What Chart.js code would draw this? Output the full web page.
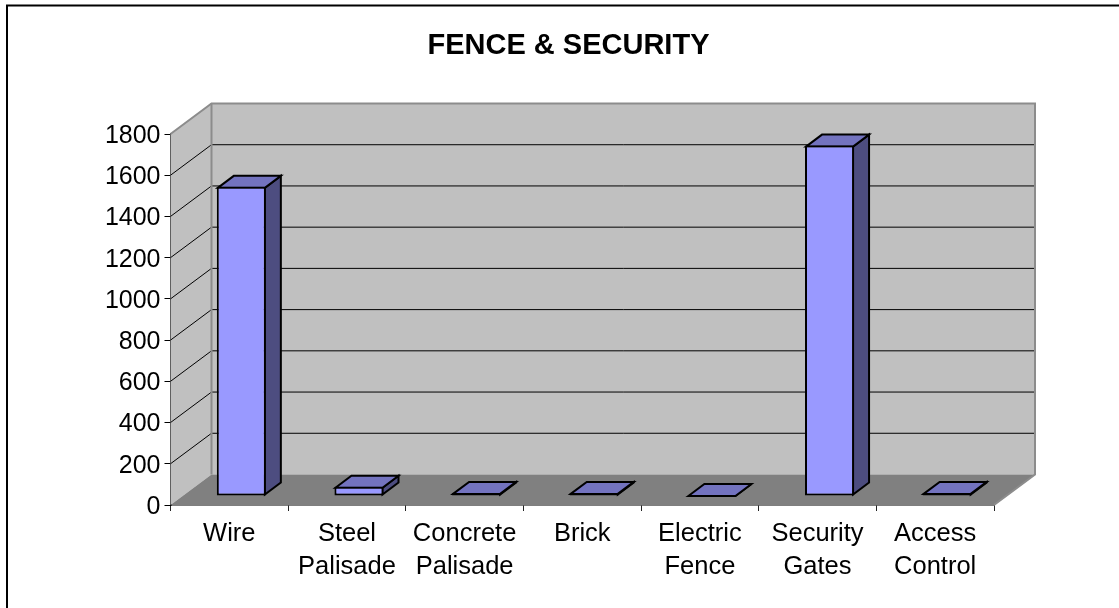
<!DOCTYPE html>
<html>
<head>
<meta charset="utf-8">
<title>Fence & Security</title>
<script src="https://cdn.jsdelivr.net/npm/chart.js@4/dist/chart.umd.min.js"></script>
<style>
    html, body { margin: 0; padding: 0; background: #fff; }
    canvas { display: block; }
</style>
</head>
<body>
<canvas id="fence-chart" width="1119" height="608"></canvas>
<script>
// chart data
const categories = ['Wire', ['Steel', 'Palisade'], ['Concrete', 'Palisade'], 'Brick', ['Electric', 'Fence'], ['Security', 'Gates'], ['Access', 'Control']];
const amounts = [1500, 45, 15, 15, 0, 1700, 15];
const chartTitle = 'FENCE & SECURITY';
const yMin = 0;
const yMax = 1800;
const yStep = 200;

// depth of the box the chart sits in, and of the bars inside it
const boxDepth = {x: 41, y: -30.5};
const barFront = {x: 12, y: -9};
const barDepth = {x: 16, y: -12};
const barLine = 2;

function poly(ctx, points, fill, stroke, width) {
    ctx.beginPath();
    points.forEach(function(p, i) {
        if (i == 0) ctx.moveTo(p[0], p[1]);
        else ctx.lineTo(p[0], p[1]);
    });
    ctx.closePath();
    if (fill) {
        ctx.fillStyle = fill;
        ctx.fill();
    }
    if (stroke) {
        ctx.strokeStyle = stroke;
        ctx.lineWidth = width;
        ctx.lineJoin = 'miter';
        ctx.stroke();
    }
}

// side wall, back wall, floor and gridlines, behind the bars
const boxPlugin = {
    id: 'box3d',
    beforeDraw: function(chart) {
        let ctx = chart.ctx;
        ctx.save();
        // chart frame only shows along the top and left
        ctx.strokeStyle = '#000';
        ctx.lineWidth = 2;
        ctx.beginPath();
        ctx.moveTo(7, 608);
        ctx.lineTo(7, 5.5);
        ctx.lineTo(1119, 5.5);
        ctx.stroke();
        ctx.restore();
    },
    beforeDatasetsDraw: function(chart) {
        let ctx = chart.ctx;
        let area = chart.chartArea;
        let dx = boxDepth.x, dy = boxDepth.y;
        let l = area.left, r = area.right, t = area.top, b = area.bottom;
        ctx.save();
        poly(ctx, [[l + dx, t + dy], [r + dx, t + dy], [r + dx, b + dy], [l + dx, b + dy]], '#c0c0c0');
        poly(ctx, [[l, t], [l + dx, t + dy], [l + dx, b + dy], [l, b]], '#c0c0c0');
        poly(ctx, [[l, b], [l + dx, b + dy], [r + dx, b + dy], [r, b]], '#808080');

        // gridlines run up the side wall and across the back
        let yscale = chart.scales.y;
        ctx.strokeStyle = '#000';
        ctx.lineWidth = 1;
        for (let v = yMin + yStep; v < yMax; v += yStep) {
            let y = yscale.getPixelForValue(v);
            ctx.beginPath();
            ctx.moveTo(l, y);
            ctx.lineTo(l + dx, y + dy);
            ctx.lineTo(r + dx, y + dy);
            ctx.stroke();
        }

        // wall edges
        ctx.strokeStyle = '#8c8c8c';
        ctx.lineWidth = 2;
        ctx.beginPath();
        ctx.moveTo(l + dx, b + dy);
        ctx.lineTo(l + dx, t + dy);
        ctx.stroke();
        ctx.beginPath();
        ctx.moveTo(l, t);
        ctx.lineTo(l + dx, t + dy);
        ctx.lineTo(r + dx, t + dy);
        ctx.lineTo(r + dx, b + dy);
        ctx.lineTo(r, b);
        ctx.stroke();
        ctx.restore();
    },
    // bars stand part way into the box, the library draws the front faces
    beforeDatasetDraw: function(chart, args) {
        let ctx = chart.ctx;
        ctx.save();
        ctx.translate(barFront.x, barFront.y);
        args.meta.data.forEach(function(bar) {
            let half = bar.width / 2;
            let x0 = bar.x - half + 1, x1 = bar.x + half - 1;
            let top = bar.y + 1, base = bar.base - 1;
            if (bar.base - bar.y < 2) top = base = bar.y;
            let dx = barDepth.x, dy = barDepth.y;
            poly(ctx, [[x1, top], [x1 + dx, top + dy], [x1 + dx, base + dy], [x1, base]], '#4d4d80', '#000', barLine);
            poly(ctx, [[x0, top], [x0 + dx, top + dy], [x1 + dx, top + dy], [x1, top]], '#7373bf', '#000', barLine);
        });
    },
    afterDatasetDraw: function(chart) {
        chart.ctx.restore();
    }
};

new Chart(document.getElementById('fence-chart'), {
    type: 'bar',
    data: {
        labels: categories,
        datasets: [{
            data: amounts,
            backgroundColor: '#9999ff',
            borderColor: '#000',
            borderWidth: barLine,
            borderSkipped: false,
            categoryPercentage: 1,
            barPercentage: 0.417,
            clip: false
        }]
    },
    options: {
        responsive: false,
        animation: false,
        layout: {padding: {left: 18, right: 0, top: 0, bottom: 0}},
        plugins: {
            legend: {display: false},
            tooltip: {enabled: false},
            title: {
                display: true,
                text: chartTitle,
                color: '#000',
                font: {family: '"Liberation Sans", Arial, sans-serif', size: 29, weight: 'bold', lineHeight: 1.2},
                padding: {top: 28.6, bottom: 70.6}
            }
        },
        scales: {
            x: {
                afterFit: function(axis) { axis.height = 103; },
                border: {color: '#000', width: 1.5},
                grid: {drawOnChartArea: false, color: '#222', tickLength: 6, lineWidth: 1},
                ticks: {
                    color: '#000',
                    padding: 6,
                    maxRotation: 0,
                    autoSkip: false,
                    font: {family: '"Liberation Sans", Arial, sans-serif', size: 25.5, lineHeight: 1.3}
                }
            },
            y: {
                min: yMin,
                max: yMax,
                afterFit: function(axis) { axis.width = 152.5; },
                border: {color: '#000', width: 1.5},
                grid: {drawOnChartArea: false, color: '#000', tickLength: 6, lineWidth: 1},
                ticks: {
                    stepSize: yStep,
                    color: '#000',
                    padding: 4,
                    labelOffset: 2,
                    font: {family: '"Liberation Sans", Arial, sans-serif', size: 25},
                    callback: function(value) { return String(value); }
                }
            },
            // empty axis that keeps the space to the right of the box
            side: {
                position: 'right',
                afterFit: function(axis) { axis.width = 125; },
                border: {display: false},
                grid: {display: false},
                ticks: {display: false}
            }
        }
    },
    plugins: [boxPlugin]
});
</script>
</body>
</html>
